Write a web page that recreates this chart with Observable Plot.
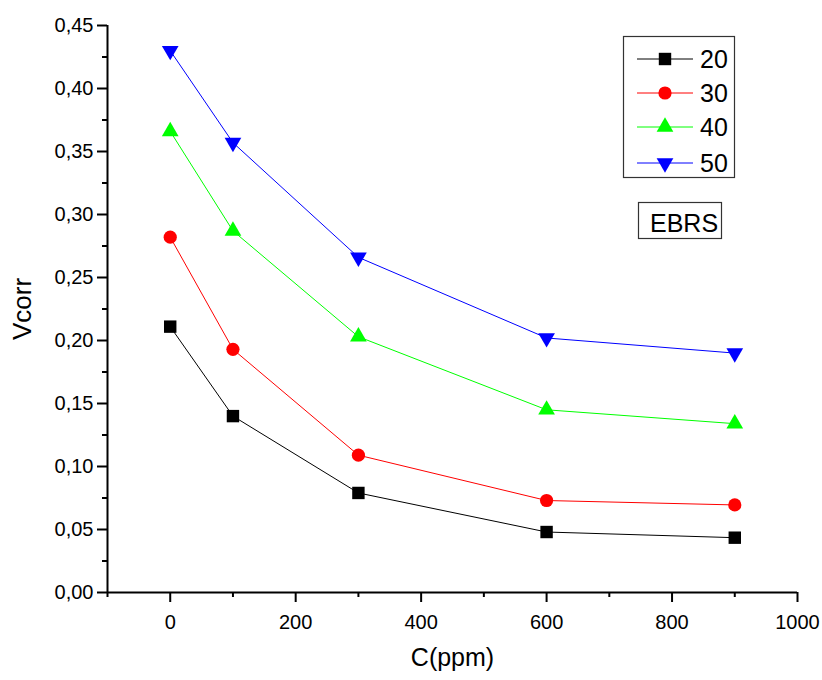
<!DOCTYPE html>
<html>
<head>
<meta charset="utf-8">
<script src="https://cdn.jsdelivr.net/npm/d3@7"></script>
<script src="https://cdn.jsdelivr.net/npm/@observablehq/plot@0.6"></script>
<style>
  html, body { margin: 0; padding: 0; background: #fff; }
  #chart { width: 822px; height: 680px; }
  svg { font-family: "Liberation Sans", Arial, sans-serif; }
</style>
</head>
<body>
<div id="chart"></div>
<script>
// ---- data ----
const concentrations = [0, 100, 300, 600, 900];
const seriesNames = ["20", "30", "40", "50"];
const v20 = [0.211, 0.140, 0.079, 0.048, 0.0435];
const v30 = [0.282, 0.193, 0.109, 0.073, 0.0695];
const v40 = [0.366, 0.287, 0.203, 0.145, 0.134];
const v50 = [0.430, 0.357, 0.266, 0.202, 0.190];
const seriesColors = ["#000000", "#ff0000", "#00ff00", "#0000ff"];
const xMajorTicks = [0, 200, 400, 600, 800, 1000];
const xMinorTicks = [-100, 100, 300, 500, 700, 900];
const yMajorTicks = [0, 0.05, 0.10, 0.15, 0.20, 0.25, 0.30, 0.35, 0.40, 0.45];
const yMinorTicks = [0.025, 0.075, 0.125, 0.175, 0.225, 0.275, 0.325, 0.375, 0.425];
const xLabel = "C(ppm)";
const yLabel = "Vcorr";
const annotation = "EBRS";

const allValues = [v20, v30, v40, v50];

// custom downward triangle symbol (mirror of d3.symbolTriangle)
const sqrt3 = Math.sqrt(3);
const triangleDown = {
  draw(context, size) {
    const y = -Math.sqrt(size / (sqrt3 * 3));
    context.moveTo(0, -y * 2);
    context.lineTo(-sqrt3 * y, y);
    context.lineTo(sqrt3 * y, y);
    context.closePath();
  }
};
const seriesSymbols = ["square", "circle", "triangle", triangleDown];
const seriesR = [7, 6.6, 6.2, 6.2];

const rows = [];
seriesNames.forEach((s, i) => {
  concentrations.forEach((c, j) => rows.push({series: s, idx: i, c, v: allValues[i][j]}));
});

const fmt = d => d.toFixed(2).replace(".", ",");

const marks = [];
seriesNames.forEach((s, i) => {
  const d = rows.filter(r => r.series === s);
  marks.push(Plot.line(d, {x: "c", y: "v", stroke: seriesColors[i], strokeWidth: 1}));
});
seriesNames.forEach((s, i) => {
  const d = rows.filter(r => r.series === s);
  marks.push(Plot.dot(d, {x: "c", y: "v", fill: seriesColors[i], stroke: "none", symbol: seriesSymbols[i], r: seriesR[i]}));
});

const chart = Plot.plot({
  width: 822,
  height: 680,
  marginLeft: 107,
  marginRight: 25,
  marginTop: 25,
  marginBottom: 88,
  style: {fontFamily: "'Liberation Sans', Arial, sans-serif", fontSize: "20px", color: "#000", background: "#fff", overflow: "visible"},
  x: {domain: [-100, 1000]},
  y: {domain: [0, 0.45]},
  marks: [
    Plot.axisY(yMajorTicks, {tickSize: 10, tickPadding: 4, strokeWidth: 2, tickFormat: fmt, label: null, fontSize: 20}),
    Plot.axisY(yMinorTicks, {tickSize: 5, strokeWidth: 2, tickFormat: () => "", label: null}),
    Plot.axisX(xMajorTicks, {tickSize: 10, tickPadding: 12, strokeWidth: 2, tickFormat: d => String(d), label: null, fontSize: 20}),
    Plot.axisX(xMinorTicks, {tickSize: 5, strokeWidth: 2, tickFormat: () => "", label: null}),
    Plot.ruleX([-100], {strokeWidth: 2}),
    Plot.ruleY([0], {strokeWidth: 2}),
    Plot.text([xLabel], {frameAnchor: "bottom", dy: 73, fontSize: 25, textAnchor: "middle"}),
    Plot.text([yLabel], {frameAnchor: "left", rotate: -90, dx: -85, fontSize: 26, textAnchor: "middle"}),
    ...marks
  ]
});

document.getElementById("chart").appendChild(chart);

// ---- legend and annotation box (drawn onto the same SVG) ----
const svg = d3.select(chart.tagName.toLowerCase() === "svg" ? chart : chart.querySelector("svg"));
const lg = svg.append("g").attr("font-family", "'Liberation Sans', Arial, sans-serif").attr("text-anchor", "start");
lg.append("rect").attr("x", 623.5).attr("y", 36.5).attr("width", 111).attr("height", 141)
  .attr("fill", "#fff").attr("stroke", "#333").attr("stroke-width", 1.2);
const legendY = [59, 93, 127, 163];
seriesNames.forEach((s, i) => {
  const g = lg.append("g").attr("transform", `translate(0,${legendY[i]})`);
  g.append("line").attr("x1", 637).attr("x2", 693).attr("y1", 0).attr("y2", 0)
    .attr("stroke", seriesColors[i]).attr("stroke-width", 1);
  const type = typeof seriesSymbols[i] === "string"
    ? {square: d3.symbolSquare, circle: d3.symbolCircle, triangle: d3.symbolTriangle}[seriesSymbols[i]]
    : seriesSymbols[i];
  const r = seriesR[i];
  g.append("path").attr("transform", "translate(665,0)")
    .attr("d", d3.symbol(type, r * r * Math.PI)()).attr("fill", seriesColors[i]);
  g.append("text").attr("x", 700).attr("y", 9).attr("font-size", 25).attr("text-anchor", "start").attr("fill", "#000").text(s);
});
lg.append("rect").attr("x", 638.5).attr("y", 202.5).attr("width", 83).attr("height", 36)
  .attr("fill", "#fff").attr("stroke", "#333").attr("stroke-width", 1.2);
lg.append("text").attr("x", 650).attr("y", 232).attr("font-size", 25).attr("text-anchor", "start").attr("fill", "#000").text(annotation);
</script>
</body>
</html>
